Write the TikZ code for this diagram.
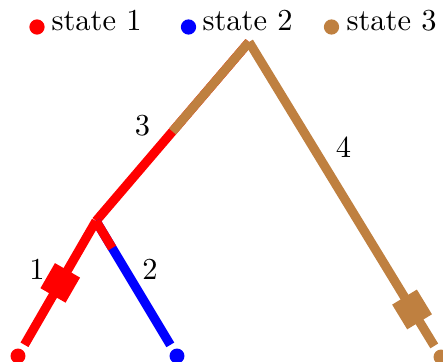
\documentclass[tikz,border=0pt]{standalone}
\usetikzlibrary{calc}
\definecolor{sbrown}{rgb}{0.75,0.5,0.25}
\begin{document}
\begin{tikzpicture}[x=0.328pt,y=-0.328pt,
  branch/.style={line width=3pt},
  leaf/.style={circle, fill=#1, inner sep=0pt, minimum size=4.9pt, outer sep=1.8pt},
  legdot/.style={circle, fill=#1, inner sep=0pt, minimum size=5pt},
  legtext/.style={anchor=base west, inner sep=0pt},
  change/.style={rectangle, fill=#1, inner sep=0pt, minimum size=9.5pt, sloped},
  num/.style={inner sep=0pt}]
\useasboundingbox (0,0) rectangle (443,362);
% legend
\node[legdot=red] (d1) at (37,27) {};
\node[legtext] (t1) at (51,31) {state 1};
\node[legdot=blue] (d2) at (188.5,27) {};
\node[legtext] (t2) at (202,31) {state 2};
\node[legdot=sbrown] (d3) at (331.5,27) {};
\node[legtext] (t3) at (346,31) {state 3};
% tree
\coordinate (root) at (249,42);
\coordinate (int) at (96,221);
\node[leaf=red] (l1) at (18,356) {};
\node[leaf=blue] (l2) at (177,356) {};
\node[leaf=sbrown] (l3) at (441,357) {};
\coordinate (c3) at ($(root)!0.5!(int)$);
\coordinate (c2) at ($(int)!0.2!(l2)$);
\draw[branch,red] (root) -- (int);
\draw[branch,sbrown] (root) -- (c3);
\draw[branch,blue] (int) -- (l2);
\draw[branch,red] (int) -- (c2);
\draw[branch,red] (int) -- (l1) node[change=red, pos=0.5] (s1) {};
\draw[branch,sbrown] (root) -- (l3) node[change=sbrown, pos=0.88] (s4) {};
% labels
\node[num] (n1) at (37,269) {1};
\node[num] (n2) at (150,269) {2};
\node[num] (n3) at (142.5,126) {3};
\node[num] (n4) at (343.5,147.5) {4};
\end{tikzpicture}
\end{document}
